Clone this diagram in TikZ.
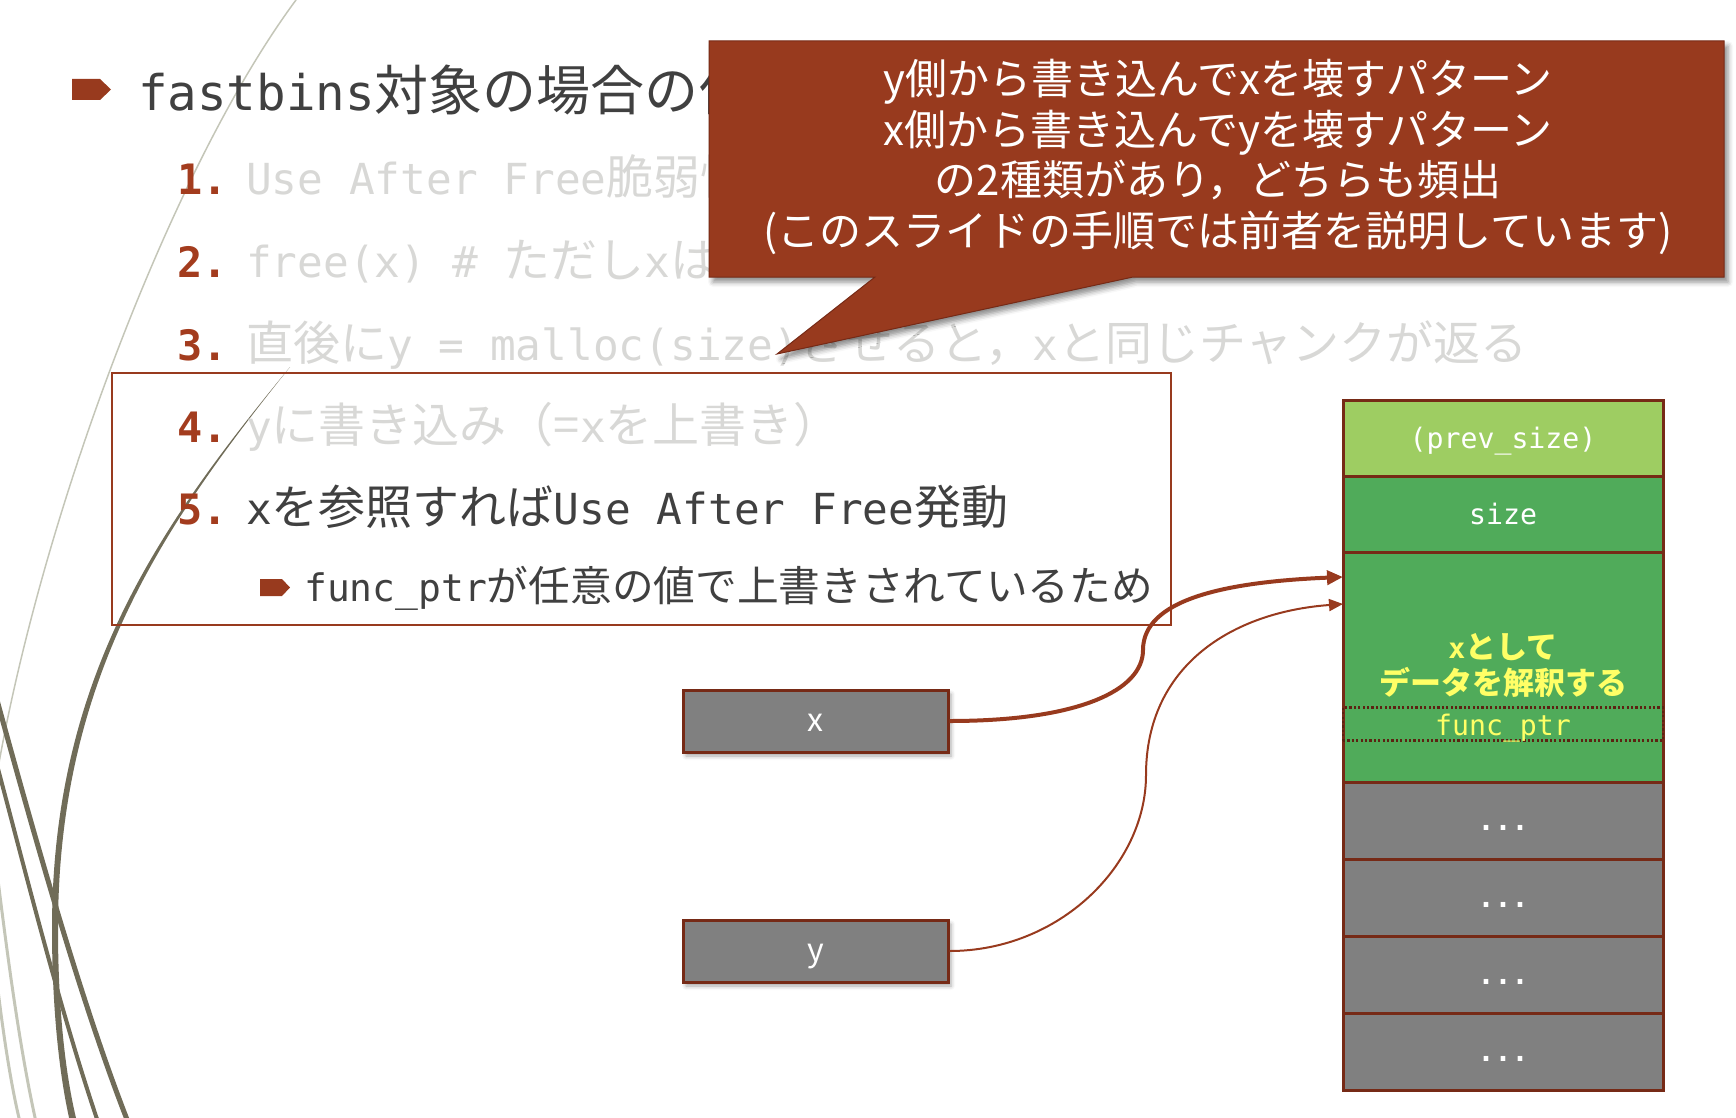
\documentclass[tikz,border=0pt]{standalone}
\usepackage{fontspec}
\setmainfont{Noto Sans CJK JP}
\setmonofont[Scale=0.91]{DejaVu Sans Mono}
\usepackage{tikz}
\usetikzlibrary{arrows.meta, positioning, fit, backgrounds, calc, shadows.blur}
\usepackage{xcolor}

\pgfdeclarelayer{slide}
\pgfsetlayers{slide,background,main}

\definecolor{rust}{RGB}{152,58,30}
\definecolor{rustdark}{RGB}{118,42,22}
\definecolor{dotbrown}{RGB}{92,34,18}
\definecolor{numred}{RGB}{163,60,30}
\definecolor{fadegray}{RGB}{216,216,214}
\definecolor{darktext}{RGB}{64,64,64}
\definecolor{lightgreen}{RGB}{158,205,98}
\definecolor{cellgreen}{RGB}{80,171,90}
\definecolor{cellgray}{RGB}{128,128,128}
\definecolor{hlyellow}{RGB}{255,255,102}
\definecolor{bgedge}{RGB}{220,230,196}
\definecolor{bgcenter}{RGB}{248,249,243}
\definecolor{wispdark}{RGB}{112,108,88}
\definecolor{wisplight}{RGB}{196,198,184}

\pgfdeclareradialshading{slideglow}{\pgfpoint{0bp}{0bp}}{color(0bp)=(bgcenter); color(12bp)=(bgcenter); color(44bp)=(bgedge); color(72bp)=(bgedge)}

\begin{document}
\begin{tikzpicture}[
    x=1pt, y=-1pt,
    txt/.style={anchor=base west, inner sep=0pt},
    num/.style={txt, font=\fontsize{46}{55}\selectfont\ttfamily\bfseries, text=numred},
    item/.style={txt, font=\fontsize{47}{56}\selectfont, text=fadegray},
    cell/.style={rectangle, draw=rustdark, line width=3pt, outer sep=0pt, minimum width=320pt, inner sep=0pt, text=white, font=\fontsize{31}{36}\selectfont\ttfamily, text height=24pt, text depth=4pt},
    ptr/.style={rectangle, draw=rustdark, line width=3pt, fill=cellgray, minimum width=265pt, minimum height=62pt, inner sep=0pt, text=white, font=\fontsize{32}{38}\selectfont, text height=22pt, text depth=2pt, blur shadow={shadow xshift=3pt, shadow yshift=-4pt, shadow blur radius=4pt, shadow opacity=35}},
    link/.style={draw=rust, -{Triangle[length=16pt, width=14pt]}},
    wisp/.style={draw=wispdark, line cap=round}
]

% slide background
\begin{pgfonlayer}{slide}
\fill[bgedge] (0,0) rectangle (1736,1118);
\shade[shading=slideglow] (0,0) rectangle (1736,1118);
\end{pgfonlayer}
\useasboundingbox (0,0) rectangle (1736,1118);

% wisps on the left
\begin{scope}
\clip (0,0) rectangle (1736,1118);
\draw[wisp, draw=wisplight, line width=1.5pt] (296,0) .. controls (170,170) and (40,520) .. (-4,780);
\draw[wisp, draw=wisplight, line width=3pt] (-2,880) .. controls (8,960) and (20,1050) .. (36,1122);
\draw[wisp, draw=wisplight, line width=3pt] (-2,990) .. controls (4,1040) and (12,1090) .. (20,1122);
\draw[wisp, line width=5pt] (-3,700) .. controls (30,820) and (80,1000) .. (128,1122);
\draw[wisp, line width=4pt] (-3,765) .. controls (25,870) and (60,1010) .. (98,1122);
\fill[wispdark] (290,367) .. controls (158,527) and (52,679) .. (52,929) .. controls (52,1000) and (58,1070) .. (70,1122) -- (77,1122) .. controls (64,1070) and (58,1000) .. (58,929) .. controls (58,680) and (161,528) .. (290,367) -- cycle;
\end{scope}

% title and steps
\fill[rust] (72,79) -- (100,79) -- (111,89.5) -- (100,100) -- (72,100) -- cycle;
\node[txt, font=\fontsize{54}{64}\selectfont, text=darktext] (title) at (138,111) {\texttt{fastbins}対象の場合の付};

\foreach \idx/\yb in {1/194, 2/277, 3/360, 4/442, 5/524}
    \node[num] (num\idx) at (177,\yb) {\idx.};

\node[item] (item1) at (246,194) {\texttt{Use After Free}脆弱性};
\node[item] (item2) at (246,277) {\texttt{free(x) \# }ただし\texttt{x}は};
\node[item] (item3) at (246,360) {直後に\texttt{y = malloc(size)}させると，\texttt{x}と同じチャンクが返る};
\node[item] (item4) at (246,442) {\texttt{y}に書き込み（=\texttt{x}を上書き）};
\node[item, text=darktext] (item5) at (246,524) {\texttt{x}を参照すれば\texttt{Use After Free}発動};

\fill[rust] (260,579) -- (282,579) -- (290,587.5) -- (282,596) -- (260,596) -- cycle;
\node[txt, font=\fontsize{41.7}{50}\selectfont, text=darktext] (sub) at (304,601) {\texttt{func\_ptr}が任意の値で上書きされているため};

\node[draw=rust, line width=2.5pt, minimum width=1059pt, minimum height=252pt, inner sep=0pt] (focus) at (641.5,499) {};

% chunk layout
\node[cell, fill=lightgreen, minimum height=76pt] (mem0) at (1503,438) {(prev\_size)};
\node[cell, fill=cellgreen, minimum height=76pt, below=0pt of mem0] (mem1) {size};
\node[cell, fill=cellgreen, minimum height=230pt, below=0pt of mem1] (mem2) {};
\foreach \i [evaluate=\i as \j using int(\i-1)] in {3,...,6}
    \node[cell, fill=cellgray, minimum height=77pt, below=0pt of mem\j] (mem\i) {\bfseries ...};

\begin{scope}[on background layer]
    \node[fit=(mem0) (mem6), inner sep=1.5pt, fill=cellgray, blur shadow={shadow xshift=4pt, shadow yshift=-4pt, shadow blur radius=5pt, shadow opacity=40}] (column) {};
\end{scope}

\node[font=\fontsize{31}{36}\selectfont\bfseries, text=hlyellow, align=center, inner sep=0pt] (xview) at (1503,665) {\texttt{x}として\\データを解釈する};
\node[draw=dotbrown, dash pattern=on 2.2pt off 2.2pt, line width=2.2pt, minimum width=320pt, minimum height=33pt, inner sep=0pt, font=\fontsize{31}{36}\selectfont\ttfamily, text=hlyellow, text height=24pt, text depth=2pt] (fptr) at (1503,724) {func\_ptr};

% pointers
\node[ptr] (xbox) at (815.5,721) {x};
\node[ptr] (ybox) at (815.5,951) {y};

\coordinate (xin) at ($(mem2.north west)+(0,25)$);
\coordinate (yin) at ($(mem2.north west)+(0,52)$);
\coordinate (xbend) at (1143,650);
\coordinate (ybend) at (1146,775);

\draw[link, line width=4pt] (xbox.east) .. controls +(130,0) and +(0,40) .. (xbend) .. controls +(0,-50) and +(-120,5) .. (xin);
\draw[link, line width=2pt, -{Triangle[length=14pt, width=12pt]}] (ybox.east) .. controls +(110,0) and +(0,90) .. (ybend) .. controls +(0,-110) and +(-110,8) .. (yin);

% callout
\path[fill=rust, draw=rustdark, line width=1pt, blur shadow={shadow xshift=4pt, shadow yshift=-5pt, shadow blur radius=5pt, shadow opacity=45}] (709,41) -- (1724,41) -- (1724,277) -- (1133,277) -- (777,354) -- (875,277) -- (709,277) -- cycle;
\node[text=white, font=\fontsize{42}{50.5}\selectfont, align=center, inner sep=0pt] (note) at (1218,157) {y側から書き込んでxを壊すパターン\\x側から書き込んでyを壊すパターン\\の2種類があり，どちらも頻出\\(このスライドの手順では前者を説明しています)};

\end{tikzpicture}
\end{document}
